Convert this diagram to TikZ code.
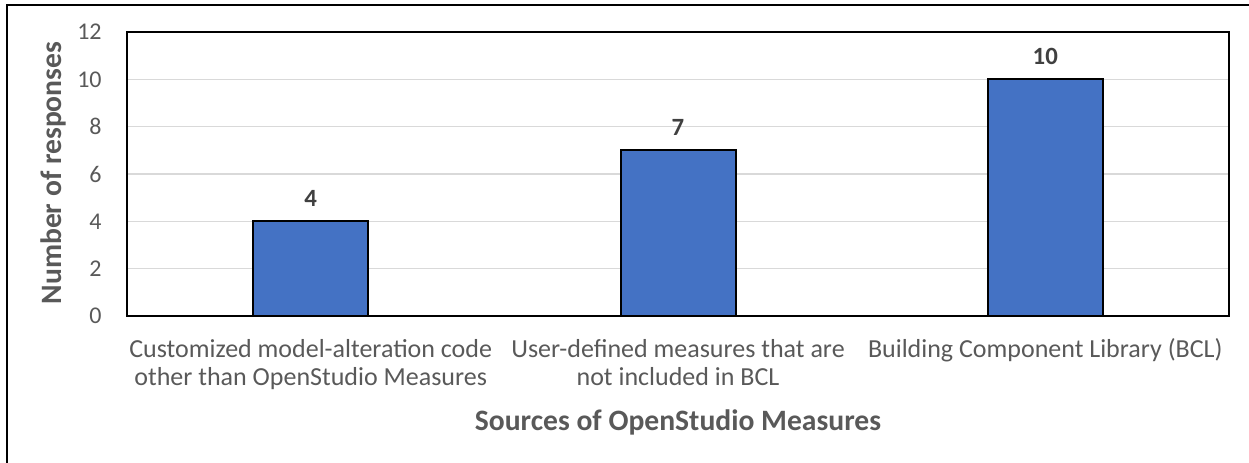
\documentclass[tikz,border=0pt]{standalone}
\usepackage{fontspec}
\setmainfont{Carlito}
\usepackage{xcolor}
\usepackage{tikz}

\definecolor{barblue}{HTML}{4472C4}
\definecolor{axisgray}{HTML}{595959}
\definecolor{valgray}{HTML}{404040}
\definecolor{gridgray}{HTML}{D9D9D9}

\tikzset{
	ticklabel/.style = {anchor=east, inner sep=0pt, text=axisgray, font=\fontsize{12}{14}\selectfont},
	catlabel/.style  = {anchor=base, inner sep=0pt, align=center, text=axisgray, font=\fontsize{13}{14}\selectfont},
	axistitle/.style = {inner sep=0pt, text=axisgray, font=\fontsize{14.8}{17}\selectfont\bfseries},
	vallabel/.style  = {anchor=base, inner sep=0pt, text=valgray, font=\fontsize{12.4}{14}\selectfont\bfseries},
	bar/.style       = {fill=barblue, draw=black, line width=1pt},
}

\begin{document}
\begin{tikzpicture}[x=0.5pt, y=-0.5pt]
			\def\yb{316};
			\def\u{23.667};
			\def\xl{127};
			\def\xr{1229};
			\def\w{57.5};

			\useasboundingbox (0,0) rectangle (1249,462);
			\clip (0,0) rectangle (1249,462);

			\draw[line width=1pt] (7,480) -- (7,5) -- (1270,5);

			\foreach \v in {2,4,...,10}
				\draw[gridgray, line width=0.6pt] (\xl,\yb-\v*\u) -- (\xr,\yb-\v*\u);

			\foreach \v in {0,2,...,12}
				\node[ticklabel] (tick\v) at (102,\yb-\v*\u) {\v};

			\foreach \c/\v/\n in {310.7/4/custom, 678/7/user, 1045.3/10/bcl} {
				\draw[bar] (\c-\w,\yb) rectangle (\c+\w,\yb-\v*\u);
				\node[vallabel] (val\n) at (\c,\yb-\v*\u-15) {\v};
			}

			\draw[line width=1pt] (\xl,32) rectangle (\xr,\yb);

			\begin{scope}[catlabel]
				\node (catcustom) at (310.7,385) {Customized model-alteration code\\other than OpenStudio Measures};
				\node (catuser) at (678,385) {User-defined measures that are\\not included in BCL};
				\node (catbcl) at (1045.3,357) {Building Component Library (BCL)};
			\end{scope}

			\node[axistitle, anchor=base] (xtitle) at (678,430) {Sources of OpenStudio Measures};
			\node[axistitle, rotate=90] (ytitle) at (53,173) {Number of responses};
		\end{tikzpicture}
\end{document}
